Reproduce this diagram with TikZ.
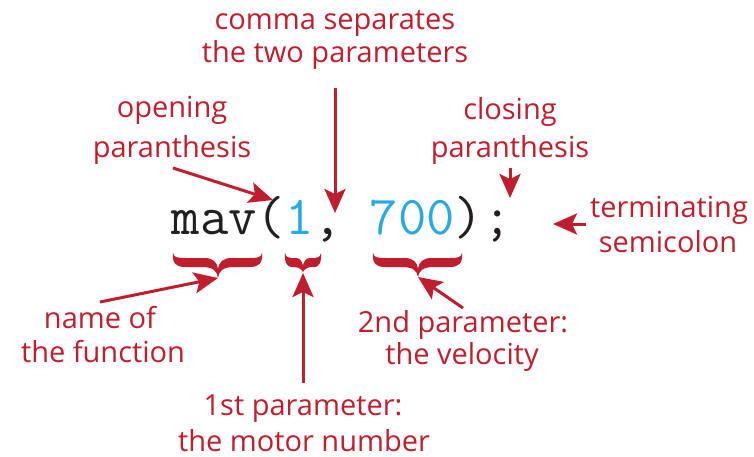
\documentclass[tikz,border=0pt]{standalone}
\usepackage{fontspec}
\setmainfont{Open Sans}
\usetikzlibrary{arrows.meta}
\definecolor{anred}{HTML}{BE1E2D}
\definecolor{codeblue}{HTML}{29A9E1}
\definecolor{codeblack}{HTML}{231F20}
\tikzset{
  lbl/.style={text=anred, font=\fontsize{29}{34}\selectfont, inner sep=0pt, anchor=base},
  callout/.style={draw=anred, line width=3pt, -{Stealth[length=24pt,width=21pt,inset=5pt]}},
}
% #1 xl, #2 xm, #3 xr, #4 top y, #5 tip y, #6 end length, #7 centre length
\newcommand{\mybrace}[7]{%
  \fill[anred] (#1,#4) .. controls ({#1+1},{#4+4}) and ({#1+3},{#4+5}) .. ({#1+#6},{#4+5})
   -- ({#2-#7},{#4+5}) .. controls ({#2-#7/3},{#4+5}) and ({#2-1},{#4+9}) .. (#2,{#4+0.65*(#5-#4)})
   .. controls ({#2+1},{#4+9}) and ({#2+#7/3},{#4+5}) .. ({#2+#7},{#4+5})
   -- ({#3-#6},{#4+5}) .. controls ({#3-3},{#4+5}) and ({#3-1},{#4+4}) .. (#3,#4)
   .. controls ({#3+1},{#4+10}) and ({#3-3},{#4+14}) .. ({#3-#6},{#4+14})
   -- ({#2+#7+2},{#4+14}) .. controls ({#2+#7/3},{#4+14}) and ({#2+1},{#4+18}) .. (#2,#5)
   .. controls ({#2-1},{#4+18}) and ({#2-#7/3},{#4+14}) .. ({#2-#7-2},{#4+14})
   -- ({#1+#6},{#4+14}) .. controls ({#1+3},{#4+14}) and ({#1-1},{#4+10}) .. cycle;}
\begin{document}
\begin{tikzpicture}[x=1pt,y=-1pt]
\useasboundingbox (0,0) rectangle (754,457);
% code line
\node[anchor=base west, inner sep=0pt, text=codeblack, font=\ttfamily\fontsize{55}{58}\selectfont]
  (code) at (171.5,234) {\frenchspacing mav(\textcolor{codeblue}{1}, \textcolor{codeblue}{700});};
% braces
\mybrace{173}{218}{262}{253}{278}{12}{14}
\mybrace{285}{303}{321}{253}{272}{6}{7}
\mybrace{373}{418}{462}{253}{277}{12}{14}
% labels
\node[lbl] (comma1) at (335,30) {comma separates};
\node[lbl] (comma2) at (335,63) {the two parameters};
\node[lbl] (open1) at (172,118) {opening};
\node[lbl] (open2) at (172,158) {paranthesis};
\node[lbl] (close1) at (510,120) {closing};
\node[lbl] (close2) at (510,158) {paranthesis};
\node[lbl] (term1) at (669,217) {terminating};
\node[lbl] (term2) at (668,252) {semicolon};
\node[lbl] (name1) at (100,328) {name of};
\node[lbl] (name2) at (103,362) {the function};
\node[lbl] (second1) at (463,332) {2nd parameter:};
\node[lbl] (second2) at (462,364) {the velocity};
\node[lbl] (first1) at (303,415) {1st parameter:};
\node[lbl] (first2) at (304,451) {the motor number};
% arrow end points
\coordinate (mavtip) at (218,278);
\coordinate (onetip) at (303,273);
\coordinate (seventip) at (418,277);
\coordinate (nameS) at (100,302);
\coordinate (firstS) at (303,383);
\coordinate (secondS) at (463,308);
\coordinate (openS) at (173,168);
\coordinate (openT) at (273,200);
\coordinate (commaS) at (335,88);
\coordinate (commaT) at (335,213);
\coordinate (closeS) at (510,168);
\coordinate (closeT) at (510,198);
\coordinate (termS) at (586,224);
\coordinate (termT) at (553,224);
% arrows
\draw[callout] (nameS) -- (mavtip);
\draw[callout] (firstS) -- (onetip);
\draw[callout] (secondS) -- (seventip);
\draw[callout] (openS) -- (openT);
\draw[callout] (commaS) -- (commaT);
\draw[callout] (closeS) -- (closeT);
\draw[callout] (termS) -- (termT);
\end{tikzpicture}
\end{document}
